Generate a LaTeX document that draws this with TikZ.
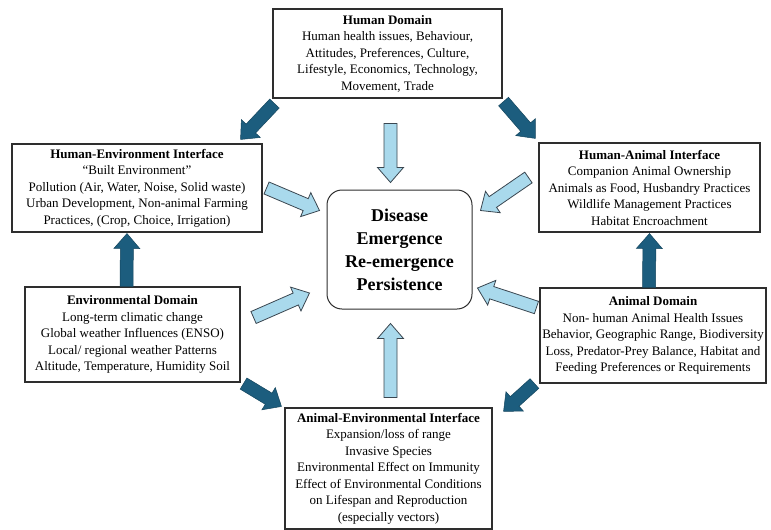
\documentclass[tikz,border=0pt]{standalone}
\usepackage{fontspec}
\setmainfont{Liberation Serif}
\usepackage{xcolor}
\usepackage{tikz}
\usetikzlibrary{calc}
\definecolor{boxline}{HTML}{2E2E2E}
\definecolor{darkfill}{HTML}{1C5D7E}
\definecolor{lightfill}{HTML}{A9D9EC}
\definecolor{arrowline}{HTML}{3A4650}
\tikzset{
  infobox/.style={draw=boxline, line width=1.1pt, align=center, fill=white, inner sep=1pt, font=\fontsize{13}{16.5}\selectfont},
  hubbox/.style={draw=boxline, line width=1pt, rounded corners=15pt, align=center, fill=white, inner sep=2pt, font=\fontsize{18}{23}\selectfont\bfseries},
  fatarrow/.style={to path={
    let \p1=(\tikztostart), \p2=(\tikztotarget), \p3=($(\p2)!15pt!(\p1)$) in
    ($(\p1)!6.5pt!90:(\p2)$) -- ($(\p3)!6.5pt!90:(\p2)$) -- ($(\p3)!13pt!90:(\p2)$) -- (\p2)
    -- ($(\p3)!13pt!-90:(\p2)$) -- ($(\p3)!6.5pt!-90:(\p2)$) -- ($(\p1)!6.5pt!-90:(\p2)$) -- cycle}},
  lightarrow/.style={fatarrow, fill=lightfill, draw=arrowline, line width=0.8pt, line join=miter},
  darkarrow/.style={fatarrow, fill=darkfill, draw=darkfill!75!black, line width=0.5pt, line join=miter}
}
\begin{document}
\begin{tikzpicture}[x=1pt, y=-1pt]
  \useasboundingbox (0,0) rectangle (771,530);
  \node[infobox, minimum width=229, minimum height=89] (human) at (387.5,53.5) {\textbf{Human Domain}\\Human health issues, Behaviour,\\Attitudes, Preferences, Culture,\\Lifestyle, Economics, Technology,\\Movement, Trade};
  \node[infobox, minimum width=250, minimum height=88] (hei) at (137,188) {\textbf{Human-Environment Interface}\\``Built Environment''\\Pollution (Air, Water, Noise, Solid waste)\\Urban Development, Non-animal Farming\\Practices, (Crop, Choice, Irrigation)};
  \node[infobox, minimum width=221, minimum height=89] (hai) at (649.5,187.5) {\textbf{Human-Animal Interface}\\Companion Animal Ownership\\Animals as Food, Husbandry Practices\\Wildlife Management Practices\\Habitat Encroachment};
  \node[infobox, minimum width=215, minimum height=95] (env) at (132.5,334.5) {\textbf{Environmental Domain}\\Long-term climatic change\\Global weather Influences (ENSO)\\Local/ regional weather Patterns\\Altitude, Temperature, Humidity Soil};
  \node[infobox, minimum width=226, minimum height=95] (animal) at (653,335.5) {\textbf{Animal Domain}\\Non- human Animal Health Issues\\Behavior, Geographic Range, Biodiversity\\Loss, Predator-Prey Balance, Habitat and\\Feeding Preferences or Requirements};
  \node[infobox, minimum width=207, minimum height=121] (aei) at (388.5,468.5) {\textbf{Animal-Environmental Interface}\\Expansion/loss of range\\Invasive Species\\Environmental Effect on Immunity\\Effect of Environmental Conditions\\on Lifespan and Reproduction\\(especially vectors)};
  \node[hubbox, minimum width=145, minimum height=119] (disease) at (399.5,249.5) {Disease\\Emergence\\Re-emergence\\Persistence};

  \draw[darkarrow] ($(human.south west)+(2,5)$) to ($(hei.north east)+(-22,-4)$);
  \draw[darkarrow] ($(human.south east)+(1,3)$) to ($(hai.north west)+(-3,-4)$);
  \draw[darkarrow] ($(env.north)+(-6,0)$) to ($(hei.south)+(-10,1)$);
  \draw[darkarrow] ($(animal.north)+(-4,0)$) to ($(hai.south)+(0,1)$);
  \draw[darkarrow] ($(env.south east)+(3,1)$) to ($(aei.north west)+(-3,-1)$);
  \draw[darkarrow] ($(animal.south west)+(-5,0)$) to ($(aei.north east)+(11,4)$);

  \draw[lightarrow] ($(human.south)+(3,25)$) to ($(disease.north)+(-9,-7)$);
  \draw[lightarrow] ($(aei.north)+(2,-10)$) to ($(disease.south)+(-9,14)$);
  \draw[lightarrow] ($(hei.east)+(4,0)$) to ($(disease.west)+(-7,-39)$);
  \draw[lightarrow] ($(hai.west)+(-10,-10)$) to ($(disease.east)+(8,-39)$);
  \draw[lightarrow] ($(env.east)+(13,-17)$) to ($(disease.west)+(-17,43.5)$);
  \draw[lightarrow] ($(animal.west)+(-3,-28)$) to ($(disease.east)+(5,38.5)$);
\end{tikzpicture}
\end{document}
